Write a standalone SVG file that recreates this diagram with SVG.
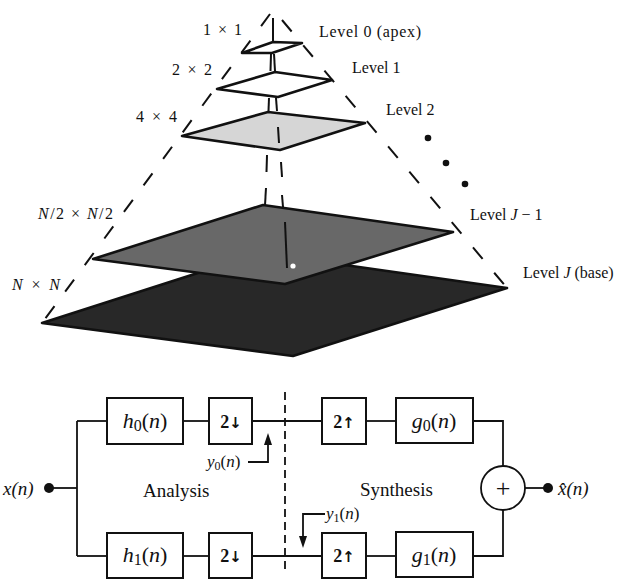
<svg xmlns="http://www.w3.org/2000/svg" width="623" height="587" viewBox="0 0 623 587">
<style>
  .lbl { font-family: "Liberation Serif", "Times New Roman", serif; font-size: 16px; fill: #111; }
  .big { font-family: "Liberation Serif", "Times New Roman", serif; font-size: 22px; fill: #111; }
  .mid { font-family: "Liberation Serif", "Times New Roman", serif; font-size: 19px; fill: #111; }
  .sm { font-family: "Liberation Serif", "Times New Roman", serif; font-size: 17px; fill: #111; }
  .bold { font-family: "Liberation Serif", "Times New Roman", serif; font-size: 18px; font-weight: bold; fill: #111; }
  .arr { font-family: "DejaVu Sans", sans-serif; font-size: 15px; font-weight: bold; }
  .plus { font-family: "Liberation Serif", "Times New Roman", serif; font-size: 26px; fill: #111; }
  .it { font-style: italic; }
  .dash { fill: none; stroke: #111; stroke-width: 2; stroke-dasharray: 15 18; }
  .seg { fill: none; stroke: #111; stroke-width: 2; }
  .plane { stroke: #111; stroke-width: 2.6; stroke-linejoin: round; }
  .box { fill: #fff; stroke: #111; stroke-width: 2; }
  .wire { fill: none; stroke: #111; stroke-width: 1.8; }
</style>

<!-- pyramid -->
<g id="pyramid-lines">
  <line class="dash" x1="270" y1="14" x2="42" y2="323"/>
  <line class="dash" x1="282" y1="20" x2="507" y2="288"/>
  <line class="seg" x1="273" y1="18" x2="273" y2="42"/>
  <line class="seg" x1="271" y1="54" x2="270.5" y2="71"/>
  <line class="seg" x1="274" y1="54" x2="275" y2="71"/>
  <line class="seg" x1="269" y1="98" x2="268.5" y2="111"/>
  <line class="seg" x1="276" y1="98" x2="277" y2="111"/>
  <line class="seg" x1="267" y1="155" x2="266.5" y2="172"/>
  <line class="seg" x1="266" y1="188" x2="265" y2="205"/>
  <line class="seg" x1="281" y1="162" x2="282" y2="177"/>
  <line class="seg" x1="282" y1="195" x2="283" y2="207"/>
</g>
<g id="level-J">
  <polygon class="plane" fill="#282828" points="42,323 260,253 507,288 293,356"/>
</g>
<g id="level-J-1">
  <polygon class="plane" fill="#686868" points="93,259 263,205 453,232 285,284"/>
  <line class="seg" x1="285" y1="222" x2="287" y2="268" stroke-width="1.6"/>
  <circle cx="293" cy="266" r="2.6" fill="#fff"/>
</g>
<g id="level-2">
  <polygon class="plane" fill="#d6d6d6" points="182,136 268,112 365,123 280,150"/>
  <line class="seg" x1="278" y1="127" x2="279" y2="143"/>
</g>
<g id="level-1">
  <polygon class="plane" fill="#fff" points="217,89 275,72 332,80 278,97"/>
</g>
<g id="level-0">
  <polygon class="plane" fill="#fff" points="242,53 273,42 302,43 272,53"/>
</g>
<g id="dots">
  <circle cx="428" cy="138" r="3.3" fill="#111"/>
  <circle cx="446" cy="163" r="3.3" fill="#111"/>
  <circle cx="465" cy="184" r="3.3" fill="#111"/>
</g>
<g id="pyramid-labels">
  <text class="lbl" x="203" y="35" textLength="39" lengthAdjust="spacing">1 × 1</text>
  <text class="lbl" x="172" y="75" textLength="40" lengthAdjust="spacing">2 × 2</text>
  <text class="lbl" x="136" y="122" textLength="41" lengthAdjust="spacing">4 × 4</text>
  <text class="lbl" x="38" y="219" textLength="75" lengthAdjust="spacing"><tspan class="it">N</tspan>/2 × <tspan class="it">N</tspan>/2</text>
  <text class="lbl" x="12" y="290" textLength="48" lengthAdjust="spacing"><tspan class="it">N</tspan> × <tspan class="it">N</tspan></text>
  <text class="lbl" x="319" y="37" textLength="102" lengthAdjust="spacing">Level 0 (apex)</text>
  <text class="lbl" x="352" y="73">Level 1</text>
  <text class="lbl" x="386" y="115">Level 2</text>
  <text class="lbl" x="470" y="220">Level <tspan class="it">J</tspan> − 1</text>
  <text class="lbl" x="523" y="278">Level <tspan class="it">J</tspan> (base)</text>
</g>

<!-- filter bank -->
<g id="connectors">
  <line class="wire" x1="49" y1="488" x2="77" y2="488"/>
  <line class="wire" x1="77" y1="421" x2="77" y2="556"/>
  <line class="wire" x1="77" y1="421" x2="107" y2="421"/>
  <line class="wire" x1="77" y1="556" x2="107" y2="556"/>
  <line class="wire" x1="183" y1="421" x2="209" y2="421"/>
  <line class="wire" x1="183" y1="556" x2="209" y2="556"/>
  <line class="wire" x1="252" y1="421" x2="322" y2="421"/>
  <line class="wire" x1="252" y1="556" x2="322" y2="556"/>
  <line class="wire" x1="366" y1="421" x2="396" y2="421"/>
  <line class="wire" x1="366" y1="556" x2="396" y2="556"/>
  <polyline class="wire" points="473,421 503,421 503,466"/>
  <polyline class="wire" points="473,556 503,556 503,510"/>
  <line class="wire" x1="525" y1="488" x2="548" y2="488"/>
  <line class="wire" x1="285" y1="392" x2="285" y2="574" stroke-dasharray="8 5"/>
  <polyline class="wire" points="248,462 268,462 268,442"/>
  <polygon points="268,433 264,445 272,445" fill="#111"/>
  <polyline class="wire" points="325,514 303,514 303,538"/>
  <polygon points="303,548 299,536 307,536" fill="#111"/>
</g>
<g id="x-in">
  <circle cx="49" cy="488" r="5" fill="#111"/>
  <text class="mid it" x="3" y="495">x(n)</text>
</g>
<g id="h0">
  <rect class="box" x="107" y="398" width="76" height="46"/>
  <text class="big" x="145" y="428" text-anchor="middle"><tspan class="it">h</tspan><tspan font-size="16" dy="3">0</tspan><tspan dy="-3">(</tspan><tspan class="it">n</tspan>)</text>
</g>
<g id="down0">
  <rect class="box" x="209" y="398" width="43" height="46"/>
  <text class="bold" x="231" y="428" text-anchor="middle">2<tspan class="arr">↓</tspan></text>
</g>
<g id="h1">
  <rect class="box" x="107" y="533" width="76" height="45"/>
  <text class="big" x="145" y="562" text-anchor="middle"><tspan class="it">h</tspan><tspan font-size="16" dy="3">1</tspan><tspan dy="-3">(</tspan><tspan class="it">n</tspan>)</text>
</g>
<g id="down1">
  <rect class="box" x="209" y="533" width="43" height="45"/>
  <text class="bold" x="231" y="562" text-anchor="middle">2<tspan class="arr">↓</tspan></text>
</g>
<g id="up0">
  <rect class="box" x="322" y="398" width="44" height="46"/>
  <text class="bold" x="344" y="428" text-anchor="middle">2<tspan class="arr">↑</tspan></text>
</g>
<g id="g0">
  <rect class="box" x="396" y="398" width="77" height="45"/>
  <text class="big" x="434" y="428" text-anchor="middle"><tspan class="it">g</tspan><tspan font-size="16" dy="3">0</tspan><tspan dy="-3">(</tspan><tspan class="it">n</tspan>)</text>
</g>
<g id="up1">
  <rect class="box" x="322" y="533" width="44" height="45"/>
  <text class="bold" x="344" y="562" text-anchor="middle">2<tspan class="arr">↑</tspan></text>
</g>
<g id="g1">
  <rect class="box" x="396" y="532" width="77" height="45"/>
  <text class="big" x="434" y="562" text-anchor="middle"><tspan class="it">g</tspan><tspan font-size="16" dy="3">1</tspan><tspan dy="-3">(</tspan><tspan class="it">n</tspan>)</text>
</g>
<g id="sum">
  <circle cx="503" cy="488" r="22" fill="#fff" stroke="#111" stroke-width="1.8"/>
  <text class="plus" x="503" y="497" text-anchor="middle">+</text>
</g>
<g id="x-out">
  <circle cx="548" cy="488" r="5" fill="#111"/>
  <text class="mid it" x="558" y="495">x̂(n)</text>
</g>
<g id="labels">
  <text class="mid" x="143" y="497">Analysis</text>
  <text class="mid" x="360" y="496">Synthesis</text>
  <text class="sm" x="207" y="467"><tspan class="it">y</tspan><tspan font-size="12" dy="3">0</tspan><tspan dy="-3">(</tspan><tspan class="it">n</tspan>)</text>
  <text class="sm" x="326" y="519"><tspan class="it">y</tspan><tspan font-size="12" dy="3">1</tspan><tspan dy="-3">(</tspan><tspan class="it">n</tspan>)</text>
</g>
</svg>
